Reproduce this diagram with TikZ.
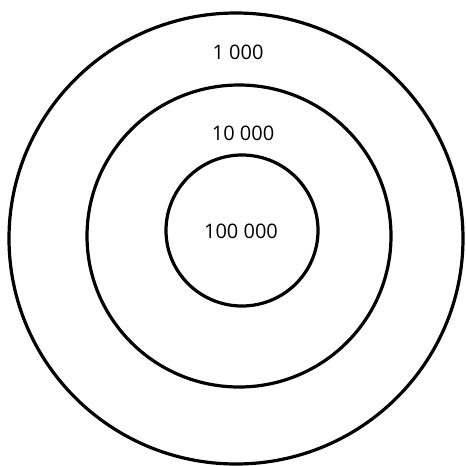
\documentclass[tikz,border=0pt]{standalone}
\usepackage{fontspec}
\setmainfont{Open Sans}
\begin{document}
\begin{tikzpicture}[x=1pt,y=-1pt,
  ring/.style={draw=black,line width=3.2pt},
  lbl/.style={font=\fontsize{20}{22}\selectfont,text=black,inner sep=0pt}]
\useasboundingbox (0,0) rectangle (466,466);
\draw[ring] (236,238.5) ellipse [x radius=227, y radius=225.5];
\draw[ring] (239,236) ellipse [x radius=152, y radius=151];
\draw[ring] (242,230.5) ellipse [x radius=76, y radius=75.5];
\node[lbl] (t1) at (238,52) {1 000};
\node[lbl] (t2) at (243,133) {10 000};
\node[lbl] (t3) at (241,231) {100 000};
\end{tikzpicture}
\end{document}
